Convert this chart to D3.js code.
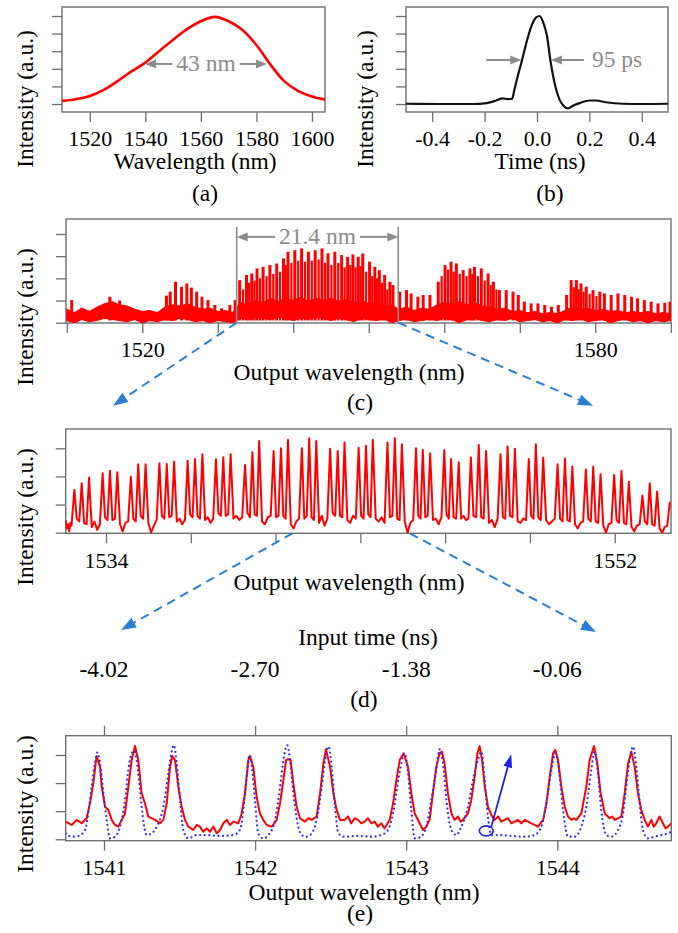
<!DOCTYPE html>
<html><head><meta charset="utf-8">
<script src="https://cdn.jsdelivr.net/npm/d3@7"></script>
</head><body style="margin:0;background:#fff">
<svg id="fig" width="678" height="933"></svg>
<script>
// ---------- (a) input spectrum ----------
const aWl  = [1510,1515,1520,1525,1530,1535,1540,1545,1550,1555,1560,1565,1570,1575,1580,1585,1590,1595,1600,1605];
const aVal = [0.035,0.055,0.09,0.16,0.26,0.37,0.47,0.60,0.73,0.85,0.94,0.99,0.94,0.84,0.67,0.45,0.26,0.15,0.085,0.05];
const aTicks = [1520,1540,1560,1580,1600];
const aHalf = [1539.9,1583.8], aHalfLevel = 0.455, aLabel = "43 nm";

// ---------- (b) input pulse ----------
const bT   = [-0.5,-0.37,-0.244,-0.193,-0.155,-0.131,-0.112,-0.095,-0.0865,-0.074,-0.057,-0.041,-0.022,-0.003,0.0097,0.025,0.038,0.051,0.067,0.086,0.101,0.118,0.137,0.162,0.2,0.225,0.263,0.327,0.4,0.5];
const bVal = [0.003,0.0,0.0,0.01,0.04,0.065,0.055,0.06,0.16,0.31,0.5,0.69,0.88,0.985,1.0,0.917,0.776,0.5,0.24,0.05,-0.02,-0.05,-0.02,0.01,0.04,0.04,0.02,0.003,0.0,0.003];
const bTicks = [-0.4,-0.2,0,0.2,0.4];
const bTickLabels = ["-0.4","-0.2","0.0","0.2","0.4"];
const bHalf = [-0.06,0.053], bHalfLevel = 0.5, bLabel = "95 ps";

// ---------- (c) full output spectrum ----------
// tall comb lines
const cSpikeWl = [1510.65,1515.7,1517.0,1523.2,1523.7,1524.4,1525.2,1525.9,1526.5,1527.2,1527.9,1528.7,1529.6,1530.5,1531.6,1532.3,
  1532.9,1533.8,1534.5,1535.2,1536.0,1536.9,1537.8,1538.7,1539.3,1540.2,1541.1,1542.0,1542.9,1543.8,1544.6,1545.5,1546.4,1547.2,1547.9,1548.6,1549.2,1550.1,1550.8,1551.4,1552.1,1552.8,1553.2,
  1554.1,1555.0,1555.6,1556.5,1557.2,1558.1,
  1559.2,1560.1,1560.9,1561.6,1562.5,1563.4,1564.0,1564.9,1565.8,1566.5,
  1567.3,1568.2,1569.1,1569.8,1570.6,1571.5,1572.4,1573.3,1574.2,1575.1,
  1576.2,1576.8,1577.5,1578.1,1578.8,1579.7,1580.6,1581.2,1582.1,1583.0,1583.9,1584.8,1585.6,1586.5,1587.4,1588.3,1589.2,1589.9];
const cSpikeVal = [1.02,1.17,1.0,1.22,1.4,1.85,1.62,1.77,1.58,1.4,1.17,1.02,0.8,0.65,0.8,1.02,
  1.92,2.15,2.22,2.45,2.52,2.6,2.67,2.9,3.2,3.27,3.35,3.2,3.27,3.35,3.13,3.2,3.05,2.97,3.08,2.97,3.12,2.75,2.52,2.37,2.15,1.85,1.7,
  1.4,1.47,1.32,1.17,1.25,1.25,
  1.85,2.6,2.75,2.67,2.37,2.45,2.52,2.45,2.22,1.85,
  1.47,1.47,1.4,1.25,0.95,0.87,0.87,0.8,0.72,0.8,
  1.25,1.92,1.92,1.77,1.62,1.47,1.4,1.32,1.25,1.32,1.25,1.17,1.1,1.02,0.95,0.87,0.9,0.95];
// shorter comb lines between the tall ones
const cSubWl = [1533.35,1534.15,1534.85,1535.6,1536.45,1537.35,1538.25,1539.0,1539.75,1540.65,1541.55,1542.45,1543.35,1544.2,1545.05,1545.95,1546.8,1547.55,1548.25,1548.9,1549.65,1550.45,1551.1,1551.75,1552.45,
  1559.65,1560.5,1561.25,1562.05,1562.95,1563.7,1564.45,1565.35,1566.15,1566.9,
  1577.15,1577.8,1578.45,1579.25,1580.15];
const cSubVal = [1.5,1.8,1.9,2.0,2.1,2.2,2.3,2.6,2.7,2.8,2.75,2.8,2.85,2.7,2.6,2.7,2.5,2.6,2.5,2.55,2.3,2.1,2.0,1.8,1.5,
  2.1,2.4,2.3,2.2,2.1,2.2,2.1,1.9,1.7,1.5,
  1.6,1.5,1.4,1.3,1.2];
// noise band under the comb, sampled every nanometre from 1510 to 1590
const cBandWl = d3.range(1510, 1591, 1);
const cBandHigh = [0.6,0.45,0.65,0.5,0.7,0.85,0.95,0.8,0.75,0.6,0.5,0.55,0.45,0.7,0.8,0.75,0.85,0.7,0.6,0.65,
  0.5,0.55,0.45,0.9,0.8,1.0,0.9,1.1,0.95,1.1,1.0,1.15,0.95,1.1,1.0,1.1,0.95,1.05,0.9,1.0,
  0.85,0.9,0.75,0.8,0.6,0.7,0.55,0.65,0.6,0.8,0.9,0.85,0.95,0.8,0.9,0.75,0.7,0.6,0.65,0.5,
  0.55,0.45,0.5,0.4,0.45,0.4,0.55,0.7,0.6,0.65,0.55,0.6,0.5,0.55,0.45,0.5,0.45,0.5,0.4,0.45,0.4];
const cBandLow = [0.1,0.0,0.15,0.05,0.1,0.2,0.15,0.1,0.05,0.15,0.0,0.1,0.05,0.15,0.1,0.2,0.15,0.05,0.1,0.0,
  0.1,0.05,0.0,0.2,0.15,0.25,0.2,0.15,0.25,0.2,0.1,0.2,0.15,0.25,0.2,0.1,0.2,0.15,0.05,0.2,
  0.15,0.1,0.2,0.0,0.1,0.15,0.05,0.1,0.15,0.1,0.2,0.15,0.0,0.15,0.2,0.1,0.05,0.15,0.1,0.2,
  0.05,0.1,0.15,0.05,0.1,0.0,0.15,0.1,0.2,0.05,0.1,0.15,0.0,0.1,0.15,0.05,0.1,0.0,0.1,0.05,0.1];
const cTicks = [1510,1520,1530,1540,1550,1560,1570,1580,1590];
const cLabeled = [1520,1580];
const cMarks = [1532.5,1553.9], cMarkTop = 4.32, cMarkLevel = 3.87, cLabel = "21.4 nm";

// ---------- (d) central 21.4 nm of the output ----------
const dPeakWl = [1532.88,1533.14,1533.40, 1533.88,1534.14,1534.40, 1534.88,1535.14,1535.40, 1535.89,1536.15,1536.41,
  1536.89,1537.15,1537.41, 1537.89,1538.15,1538.41, 1538.92,1539.18,1539.42, 1539.93,1540.19,1540.44,
  1540.93,1541.19,1541.44, 1541.93,1542.20,1542.44, 1542.94,1543.20,1543.44, 1543.96,1544.22,1544.47,
  1544.97,1545.21,1545.47, 1545.97,1546.21,1546.48, 1546.91,1547.19,1547.45, 1547.96,1548.21,1548.47,
  1548.96,1549.21,1549.47, 1549.98,1550.24,1550.50, 1550.98,1551.24,1551.50, 1551.98,1552.24,1552.50,
  1552.98,1553.24,1553.50, 1553.95];
const dPeakVal = [1.52,1.76,1.96, 2.11,2.20,2.15, 1.99,2.43,2.43, 2.47,2.44,2.52,
  2.56,2.62,2.79, 2.61,2.68,2.79, 2.41,2.86,3.26, 2.90,3.00,3.30,
  3.00,3.36,3.26, 2.98,2.90,3.21, 3.02,3.09,3.30, 3.21,3.36,3.14,
  3.00,2.94,2.82, 2.94,2.62,2.50, 2.67,3.12,2.90, 2.79,3.06,2.98,
  2.62,3.14,2.67, 2.43,2.64,2.35, 2.25,2.35,2.08, 2.05,2.20,1.81,
  1.32,1.76,1.46, 1.10];
const dLead = [0.45,0.15,0.3,0.05,0.35,0.25];
const dFloor = [
  [0.5,0.4],[0.35,0.3],[0.2,0.4,0.1,0.3],
  [0.55,0.45],[0.45,0.5],[0.3,0.05,0.35,0.4],
  [0.5,0.4],[0.6,0.5],[0.35,0.0,0.25,0.45],
  [0.6,0.5],[0.55,0.6],[0.4,0.5,0.3,0.45],
  [0.65,0.55],[0.6,0.5],[0.45,0.55,0.35,0.5],
  [0.7,0.6],[0.6,0.65],[0.5,0.6,0.45,0.55],
  [0.7,0.55],[0.65,0.6],[0.4,0.3,0.55,0.6],
  [0.55,0.6],[0.6,0.5],[0.3,0.15,0.4,0.5],
  [0.5,0.6],[0.55,0.45],[0.35,0.6,0.25,0.5],
  [0.7,0.6],[0.6,0.55],[0.45,0.35,0.6,0.5],
  [0.6,0.5],[0.65,0.55],[0.5,0.4,0.55,0.35],
  [0.55,0.6],[0.5,0.45],[0.4,0.0,0.35,0.45],
  [0.6,0.5],[0.55,0.6],[0.45,0.5,0.3,0.55],
  [0.65,0.5],[0.55,0.5],[0.5,0.6,0.45,0.5],
  [0.6,0.55],[0.55,0.5],[0.35,0.45,0.2,0.5],
  [0.55,0.5],[0.6,0.55],[0.4,0.35,0.5,0.45],
  [0.6,0.5],[0.55,0.45],[0.45,0.3,0.4,0.5],
  [0.5,0.4],[0.45,0.4],[0.3,0.15,0.35,0.4],
  [0.5,0.4],[0.4,0.35],[0.25,0.0,0.3,0.35],
  [0.45,0.35],[0.35,0.3],[0.2,0.05,0.25,0.3],
  [0.4,0.3],[0.3,0.25],[0.15,0.0,0.2,0.25]
];
const dTicks = [1534,1537,1540,1543,1546,1549,1552];
const dLabeled = [1534,1552];
const dZoom = [1540.6,1544.75];
const inputTimeWl = [1541,1542,1543,1544];
const inputTimeLabels = ["-4.02","-2.70","-1.38","-0.06"];

// ---------- (e) measured (red) and expected (blue) detail ----------
const eRed = [[1540.746,0.63],[1540.786,0.51],[1540.819,0.69],[1540.852,0.57],[1540.885,0.75],[1540.907,1.28],[1540.929,1.99],[1540.951,2.96],[1540.974,2.58],[1540.985,1.87],[1541.007,1.16],[1541.029,1.04],[1541.051,0.69],[1541.073,0.51],[1541.095,0.45],[1541.117,0.69],[1541.139,0.92],[1541.161,1.87],[1541.183,2.82],[1541.205,3.32],[1541.227,2.82],[1541.249,1.64],[1541.271,1.28],[1541.293,0.81],[1541.315,0.75],[1541.338,0.69],[1541.371,0.57],[1541.393,0.69],[1541.415,1.28],[1541.437,2.58],[1541.452,2.96],[1541.470,2.82],[1541.492,1.87],[1541.514,1.16],[1541.536,0.69],[1541.558,0.45],[1541.591,0.33],[1541.613,0.51],[1541.635,0.45],[1541.657,0.27],[1541.679,0.39],[1541.702,0.27],[1541.724,0.45],[1541.746,0.21],[1541.768,0.33],[1541.790,0.57],[1541.812,0.69],[1541.834,0.51],[1541.856,0.63],[1541.889,0.57],[1541.911,0.92],[1541.933,1.64],[1541.955,2.82],[1541.966,2.96],[1541.988,2.58],[1542.010,1.52],[1542.032,0.92],[1542.054,0.69],[1542.077,0.51],[1542.110,0.45],[1542.143,0.69],[1542.165,1.28],[1542.187,2.11],[1542.205,2.82],[1542.220,2.85],[1542.235,2.82],[1542.253,1.99],[1542.275,1.16],[1542.297,0.75],[1542.330,0.63],[1542.352,0.75],[1542.374,0.69],[1542.407,0.81],[1542.430,1.64],[1542.452,2.70],[1542.469,3.20],[1542.496,2.58],[1542.518,1.64],[1542.540,1.04],[1542.562,0.69],
  [1542.593,0.69],[1542.615,0.81],[1542.637,0.57],[1542.659,0.75],[1542.681,0.69],[1542.703,0.57],[1542.725,0.63],[1542.747,0.75],[1542.769,0.57],[1542.791,0.63],[1542.813,0.45],[1542.835,0.57],[1542.857,0.39],[1542.891,0.69],[1542.913,1.28],[1542.935,2.11],[1542.957,2.82],[1542.983,3.06],[1543.012,2.58],[1543.034,1.64],[1543.056,0.92],[1543.089,0.57],[1543.111,0.33],[1543.133,0.45],[1543.155,0.69],[1543.177,1.64],[1543.199,2.58],[1543.221,3.06],[1543.237,3.12],[1543.254,2.70],[1543.276,1.64],[1543.299,0.92],[1543.321,0.69],[1543.343,0.81],[1543.360,0.63],[1543.376,0.69],[1543.409,0.92],[1543.431,1.40],[1543.453,2.23],[1543.471,3.06],[1543.486,3.32],[1543.502,2.82],[1543.520,1.87],[1543.541,1.16],[1543.564,0.86],[1543.586,0.69],[1543.608,0.81],[1543.630,0.63],[1543.652,0.69],[1543.674,0.75],[1543.696,0.57],[1543.718,0.63],[1543.740,0.69],[1543.762,0.57],[1543.784,0.69],[1543.806,0.63],[1543.828,0.57],[1543.850,0.51],[1543.872,0.45],[1543.906,0.69],[1543.928,1.28],[1543.950,2.23],[1543.972,3.06],[1543.987,3.18],[1544.005,2.82],[1544.027,1.87],[1544.049,1.16],[1544.071,0.81],[1544.093,0.69],[1544.110,0.75],[1544.126,0.69],[1544.159,0.92],[1544.192,1.87],[1544.214,2.82],[1544.243,3.32],[1544.265,2.70],[1544.287,1.64],[1544.314,0.92],[1544.347,0.75],[1544.364,0.81],[1544.380,0.69],[1544.424,0.81],[1544.446,1.64],[1544.468,2.70],[1544.490,3.12],[1544.512,2.58],[1544.534,1.64],[1544.556,1.04],[1544.578,0.69],[1544.600,0.45],[1544.622,0.69],[1544.638,0.45],[1544.655,0.57],[1544.677,0.81],[1544.699,0.57],[1544.716,0.39],[1544.733,0.45],[1544.755,0.57]];
const eBlue = [[1540.746,0.21],[1540.786,0.09],[1540.830,0.12],[1540.874,0.33],[1540.896,0.92],[1540.918,1.87],[1540.940,2.70],[1540.956,3.09],[1540.974,2.70],[1540.996,1.64],[1541.018,0.69],[1541.040,0.03],[1541.073,0.09],[1541.106,0.45],[1541.139,1.40],[1541.161,2.47],[1541.183,3.06],[1541.199,3.15],[1541.227,2.35],[1541.249,1.16],[1541.282,0.15],[1541.315,0.21],[1541.349,0.45],[1541.393,1.16],[1541.426,2.35],[1541.448,3.12],[1541.463,3.35],[1541.481,2.70],[1541.503,1.40],[1541.525,0.33],[1541.558,0.03],[1541.613,0.15],[1541.679,0.15],[1541.768,0.12],[1541.856,0.15],[1541.900,0.33],[1541.927,1.28],[1541.949,2.47],[1541.962,3.0],[1541.979,2.58],[1541.999,1.40],[1542.021,0.21],[1542.054,0.03],[1542.088,0.15],[1542.132,0.69],[1542.165,1.87],[1542.191,2.94],[1542.213,3.35],[1542.231,2.82],[1542.253,1.64],[1542.286,0.45],[1542.308,0.15],[1542.341,0.09],[1542.374,0.21],[1542.407,0.69],[1542.441,1.87],[1542.463,2.82],[1542.485,3.30],[1542.507,2.58],[1542.529,1.16],[1542.551,0.21],
  [1542.593,0.09],[1542.681,0.12],[1542.769,0.09],[1542.835,0.15],[1542.879,0.33],[1542.913,0.92],[1542.941,1.87],[1542.968,2.70],[1542.990,3.06],[1543.012,2.35],[1543.034,1.04],[1543.056,0.03],[1543.089,0.06],[1543.133,0.45],[1543.166,1.40],[1543.199,2.47],[1543.221,3.20],[1543.244,2.70],[1543.266,1.40],[1543.299,0.33],[1543.332,0.15],[1543.365,0.45],[1543.409,1.16],[1543.442,2.11],[1543.475,2.82],[1543.497,3.12],[1543.520,2.11],[1543.541,0.81],[1543.564,0.15],[1543.608,0.15],[1543.696,0.12],[1543.784,0.09],[1543.850,0.15],[1543.894,0.45],[1543.928,1.28],[1543.961,2.47],[1543.987,3.06],[1544.016,2.23],[1544.038,1.04],[1544.071,0.09],[1544.115,0.09],[1544.159,0.45],[1544.192,1.16],[1544.225,2.47],[1544.247,3.12],[1544.269,2.35],[1544.291,1.04],[1544.324,0.15],[1544.357,0.09],[1544.402,0.33],[1544.435,0.92],[1544.464,2.23],[1544.486,3.06],[1544.501,3.30],[1544.523,2.58],[1544.545,1.28],[1544.567,0.33],[1544.600,0.03],[1544.644,0.09],[1544.688,0.15],[1544.733,0.21],[1544.755,0.27]];
const eTicks = [1541,1542,1543,1544];
const eMark = {wl:1543.530, val:0.30}, eMarkTip = {wl:1543.695, val:3.02};

// ---------- drawing ----------
const FONT = "Liberation Serif";
const svg = d3.select("#fig").attr("font-family", FONT);
const FRAME_C = "#6e6e6e", ANNO_C = "#8c8c8c", RED = "#ff0000", DASH_BLUE = "#2a7fd0", DOT_BLUE = "#2f2ff2";
const TICK_FS = 22, LABEL_FS = 23.5;
const defs = svg.append("defs");

function setFont(sel, size) {
  return sel.attr("font-family", FONT).attr("font-size", size)
    .style("font-family", `"${FONT}"`).style("font-size", size + "px");
}
function frame(id, x0, y0, x1, y1) {
  defs.append("clipPath").attr("id", id).append("rect")
    .attr("x", x0).attr("y", y0).attr("width", x1 - x0).attr("height", y1 - y0);
  svg.append("rect").attr("x", x0).attr("y", y0).attr("width", x1 - x0).attr("height", y1 - y0)
    .attr("fill", "none").attr("stroke", FRAME_C).attr("stroke-width", 1.4);
}
function styleAxis(g) {
  g.attr("font-family", FONT).attr("font-size", TICK_FS).attr("color", FRAME_C);
  g.select(".domain").remove();
  g.selectAll(".tick line").attr("stroke-width", 1.3);
  setFont(g.selectAll("text").attr("fill", "#000"), TICK_FS);
}
function yAxis(scale, values, x) {
  const g = svg.append("g").attr("transform", `translate(${x},0)`)
    .call(d3.axisLeft(scale).tickValues(values).tickSize(10).tickFormat(""));
  styleAxis(g);
}
function xAxis(scale, values, y, fmt, baseline, top = false) {
  const ax = (top ? d3.axisTop(scale) : d3.axisBottom(scale)).tickValues(values).tickSize(10).tickFormat(fmt);
  const g = svg.append("g").attr("transform", `translate(0,${y})`).call(ax);
  styleAxis(g);
  g.selectAll("text").attr("dy", null).attr("y", baseline - y);
}
function label(txt, x, y, size = LABEL_FS, color = "#000", anchor = "middle") {
  const t = svg.append("text").attr("x", x).attr("y", y).attr("text-anchor", anchor).attr("fill", color).text(txt);
  return setFont(t, size);
}
function yTitle(x, yc) {
  const t = svg.append("text").attr("transform", `translate(${x},${yc}) rotate(-90)`).attr("text-anchor", "middle")
    .text("Intensity (a.u.)");
  setFont(t, LABEL_FS);
}
function arrow(x1, y1, x2, y2, color, width, head, headW, dash) {
  const dx = x2 - x1, dy = y2 - y1, L = Math.hypot(dx, dy), ux = dx / L, uy = dy / L;
  const bx = x2 - ux * head, by = y2 - uy * head, px = -uy, py = ux;
  svg.append("line").attr("x1", x1).attr("y1", y1).attr("x2", bx + ux).attr("y2", by + uy)
    .attr("stroke", color).attr("stroke-width", width).attr("stroke-dasharray", dash || null);
  svg.append("path")
    .attr("d", `M${x2},${y2}L${bx + px * headW / 2},${by + py * headW / 2}L${bx - px * headW / 2},${by - py * headW / 2}Z`)
    .attr("fill", color);
}
// label between two end points, with arrows running from the text out to them
function spanLabel(txt, xl, xr, y, baseline) {
  const cx = (xl + xr) / 2;
  const t = label(txt, cx, baseline, LABEL_FS, ANNO_C);
  const w = t.node().getComputedTextLength();
  arrow(cx - w / 2 - 4, y, xl, y, ANNO_C, 2, 11, 9);
  arrow(cx + w / 2 + 4, y, xr, y, ANNO_C, 2, 11, 9);
}

// ----- panel (a) -----
const xA = d3.scaleLinear().domain([1510, 1604.7]).range([62, 325]);
const yA = d3.scaleLinear().domain([0, 1]).range([104, 16]);
frame("clipA", 62, 7, 325, 112);
yAxis(yA, [0, 0.2, 0.4, 0.6, 0.8, 1], 62);
xAxis(xA, aTicks, 112, d => String(d), 146);
svg.append("path").datum(d3.zip(aWl, aVal)).attr("clip-path", "url(#clipA)")
  .attr("d", d3.line().x(d => xA(d[0])).y(d => yA(d[1])).curve(d3.curveCatmullRom))
  .attr("fill", "none").attr("stroke", RED).attr("stroke-width", 2.6);
spanLabel(aLabel, xA(aHalf[0]), xA(aHalf[1]), yA(aHalfLevel), yA(aHalfLevel) + 7);
label("Wavelength (nm)", 195, 169);
label("(a)", 205, 201);
yTitle(33, 99);

// ----- panel (b) -----
const xB = d3.scaleLinear().domain([-0.5, 0.5]).range([406, 668]);
const yB = d3.scaleLinear().domain([0, 1]).range([104, 16]);
frame("clipB", 406, 7, 668, 112);
yAxis(yB, [0, 0.2, 0.4, 0.6, 0.8, 1], 406);
xAxis(xB, bTicks, 112, (d, i) => bTickLabels[i], 146);
svg.append("path").datum(d3.zip(bT, bVal)).attr("clip-path", "url(#clipB)")
  .attr("d", d3.line().x(d => xB(d[0])).y(d => yB(d[1])).curve(d3.curveMonotoneX))
  .attr("fill", "none").attr("stroke", "#111").attr("stroke-width", 2.2);
{
  const y = yB(bHalfLevel), xl = xB(bHalf[0]), xr = xB(bHalf[1]);
  arrow(xl - 35, y, xl, y, ANNO_C, 2, 11, 9);
  arrow(xr + 33, y, xr, y, ANNO_C, 2, 11, 9);
  label(bLabel, xr + 41, y + 7, LABEL_FS, ANNO_C, "start");
}
label("Time (ns)", 540, 169);
label("(b)", 550, 201);
yTitle(373, 99);

// ----- panel (c) -----
const xC = d3.scaleLinear().domain([1510, 1590]).range([66.8, 670.8]);
const yC = d3.scaleLinear().domain([0, 4]).range([322.7, 234]);
frame("clipC", 66, 219, 671, 323);
yAxis(yC, [0, 1, 2, 3, 4], 66);
xAxis(xC, cTicks, 323, d => cLabeled.includes(d) ? String(d) : "", 357);
const cg = svg.append("g").attr("clip-path", "url(#clipC)");
cg.append("path").datum(d3.range(cBandWl.length))
  .attr("d", d3.area().x(i => xC(cBandWl[i])).y0(i => yC(cBandLow[i])).y1(i => yC(cBandHigh[i])))
  .attr("fill", RED).attr("stroke", RED).attr("stroke-width", 1.2);
[[cSpikeWl, cSpikeVal, 3], [cSubWl, cSubVal, 2.2]].forEach(([wl, val, sw]) => {
  cg.append("g").selectAll("line").data(d3.range(wl.length)).join("line")
    .attr("x1", i => xC(wl[i])).attr("x2", i => xC(wl[i]))
    .attr("y1", yC(0.1)).attr("y2", i => yC(val[i]))
    .attr("stroke", RED).attr("stroke-width", sw);
});
{
  const yTop = yC(cMarkTop), y = yC(cMarkLevel), xl = xC(cMarks[0]), xr = xC(cMarks[1]);
  cMarks.forEach(m => svg.append("line").attr("x1", xC(m)).attr("x2", xC(m)).attr("y1", yTop).attr("y2", yC(0))
    .attr("stroke", ANNO_C).attr("stroke-width", 1.6));
  spanLabel(cLabel, xl, xr, y, y + 7);
  arrow(xl, yC(0), 113, 405.7, DASH_BLUE, 2, 15, 11, "9,6");
  arrow(xr, yC(0), 593, 405.7, DASH_BLUE, 2, 15, 11, "9,6");
}
label("Output wavelength (nm)", 349, 380);
label("(c)", 360, 410);
yTitle(33, 317);

// ----- panel (d) -----
const xD = d3.scaleLinear().domain([1534, 1552]).range([106, 614.7]);
const yD = d3.scaleLinear().domain([0, 3]).range([532.7, 448.3]);
frame("clipD", 65.7, 429, 671, 533.3);
yAxis(yD, [0, 1, 2, 3], 65.7);
xAxis(xD, dTicks, 533.3, d => dLabeled.includes(d) ? String(d) : "", 568);
{
  // trace: lead-in floor, then each peak followed by the floor samples up to the next peak
  const pts = [];
  const start = xD.invert(65.7);
  dLead.forEach((v, k) => pts.push([start + (dPeakWl[0] - 0.1 - start) * k / (dLead.length - 1), v]));
  dPeakWl.forEach((p, i) => {
    pts.push([p, dPeakVal[i]]);
    if (i < dFloor.length) {
      const q = dPeakWl[i + 1], f = dFloor[i];
      f.forEach((v, k) => pts.push([p + (q - p) * (k + 1) / (f.length + 1), v]));
    }
  });
  svg.append("path").datum(pts).attr("clip-path", "url(#clipD)")
    .attr("d", d3.line().x(d => xD(d[0])).y(d => yD(d[1])))
    .attr("fill", "none").attr("stroke", RED).attr("stroke-width", 2).attr("stroke-linejoin", "round");
  arrow(xD(dZoom[0]), 533.3, 121, 630, DASH_BLUE, 2, 15, 11, "9,6");
  arrow(xD(dZoom[1]), 533.3, 596, 632, DASH_BLUE, 2, 15, 11, "9,6");
}
label("Output wavelength (nm)", 349, 590);
yTitle(33, 517);

// ----- panel (e) -----
const xE = d3.scaleLinear().domain([1541, 1544]).range([104, 557.3]);
const yE = d3.scaleLinear().domain([0, 3]).range([839.3, 755]);
frame("clipE", 65.7, 735.7, 671.3, 840.7);
yAxis(yE, [0, 1, 2, 3], 65.7);
xAxis(xE, eTicks, 840.7, d => String(d), 875);
xAxis(xE, eTicks, 735.7, () => "", 700, true);
const eg = svg.append("g").attr("clip-path", "url(#clipE)");
eg.append("path").datum(eRed)
  .attr("d", d3.line().x(d => xE(d[0])).y(d => yE(d[1])))
  .attr("fill", "none").attr("stroke", RED).attr("stroke-width", 2).attr("stroke-linejoin", "round");
eg.append("path").datum(eBlue)
  .attr("d", d3.line().x(d => xE(d[0])).y(d => yE(d[1])).curve(d3.curveMonotoneX))
  .attr("fill", "none").attr("stroke", DOT_BLUE).attr("stroke-width", 2.3)
  .attr("stroke-linecap", "round").attr("stroke-dasharray", "0 4.6");
svg.append("ellipse").attr("cx", xE(eMark.wl)).attr("cy", yE(eMark.val)).attr("rx", 7).attr("ry", 5)
  .attr("fill", "none").attr("stroke", "#1f1fe0").attr("stroke-width", 1.6);
arrow(xE(eMark.wl) + 5, yE(eMark.val) - 4, xE(eMarkTip.wl), yE(eMarkTip.val), "#1f1fe0", 1.8, 13, 9);
label("Output wavelength (nm)", 364, 900);
label("(e)", 360, 921);
yTitle(33, 804);

// ----- input-time axis between (d) and (e) -----
label("Input time (ns)", 368, 645);
inputTimeWl.forEach((w, i) => label(inputTimeLabels[i], xE(w), 677));
label("(d)", 364, 707);
</script>
</body></html>
